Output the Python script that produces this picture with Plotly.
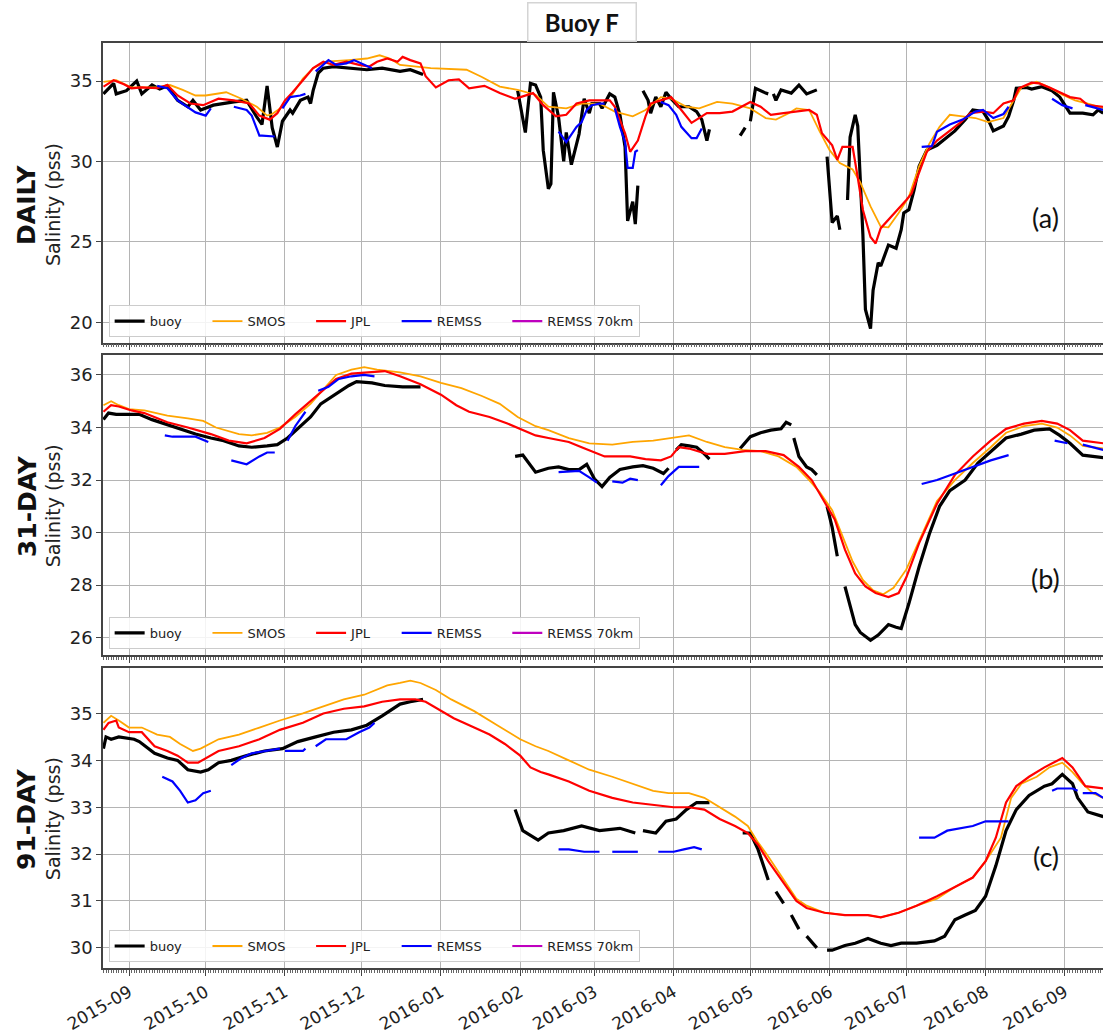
import plotly.graph_objects as go

# ---------------- Panel (a): DAILY ----------------
a_buoy_dates = ["2015-08-22","2015-08-26","2015-08-27","2015-08-31","2015-09-04","2015-09-06","2015-09-10","2015-09-13",
    "2015-09-16","2015-09-20","2015-09-24","2015-09-26","2015-09-29","2015-10-04","2015-10-12","2015-10-17","2015-10-21",
    "2015-10-23","2015-10-25","2015-10-27","2015-10-29","2015-10-31","2015-11-03","2015-11-04","2015-11-07","2015-11-10",
    "2015-11-11","2015-11-12","2015-11-14","2015-11-16","2015-11-20","2015-11-26","2015-12-03","2015-12-09","2015-12-16",
    "2015-12-20","2015-12-25","2016-01-10",
    "2016-01-31","2016-02-03","2016-02-05","2016-02-07","2016-02-09","2016-02-10","2016-02-12","2016-02-13","2016-02-14",
    "2016-02-16","2016-02-18","2016-02-19","2016-02-21","2016-02-24","2016-02-26","2016-02-28","2016-02-29","2016-03-03",
    "2016-03-04","2016-03-07","2016-03-09","2016-03-11","2016-03-13","2016-03-14","2016-03-16","2016-03-17","2016-03-18",
    "2016-03-19",
    "2016-03-20","2016-03-22","2016-03-23","2016-03-25","2016-03-27","2016-03-29","2016-03-31","2016-04-03","2016-04-07",
    "2016-04-10","2016-04-12","2016-04-14","2016-04-15","2016-04-20",
    "2016-04-27","2016-04-29","2016-04-30",
    "2016-05-01","2016-05-03","2016-05-07","2016-05-08","2016-05-09",
    "2016-05-10","2016-05-11","2016-05-13","2016-05-17","2016-05-20","2016-05-23","2016-05-27","2016-05-29",
    "2016-05-31","2016-06-02","2016-06-04","2016-06-05","2016-06-06",
    "2016-06-08","2016-06-09","2016-06-11","2016-06-12","2016-06-14","2016-06-15","2016-06-17","2016-06-18","2016-06-20",
    "2016-06-21","2016-06-24","2016-06-27","2016-06-29","2016-06-30","2016-07-02","2016-07-04","2016-07-06","2016-07-09",
    "2016-07-13","2016-07-17","2016-07-20","2016-07-24","2016-07-27","2016-07-31","2016-08-02","2016-08-04","2016-08-08",
    "2016-08-10","2016-08-12","2016-08-13","2016-08-17","2016-08-19","2016-08-23","2016-08-27","2016-08-30","2016-09-03",
    "2016-09-08","2016-09-12","2016-09-14","2016-09-16"]
a_buoy_vals = [34.2,34.85,34.2,34.4,35.0,34.2,34.75,34.5,
    34.7,33.8,33.4,33.8,33.2,33.5,33.7,33.8,32.75,
    32.3,34.7,32.1,30.9,32.5,33.2,33.0,33.8,34.0,
    33.6,34.4,35.5,35.8,35.9,35.8,35.7,35.8,35.6,
    35.7,35.4,None,
    34.4,31.8,34.85,34.75,34.0,30.7,28.3,28.6,34.3,
    32.75,30.0,31.8,29.8,31.7,33.9,33.0,33.6,33.6,
    33.3,34.2,34.0,32.9,30.9,26.3,27.5,26.1,28.5,
    None,
    34.4,33.8,33.0,34.0,33.4,34.3,33.9,33.4,33.4,
    33.1,32.6,31.3,32.0,None,
    31.6,32.1,None,
    32.5,34.55,34.25,34.2,None,
    34.2,33.8,34.45,34.25,34.75,34.2,34.45,None,
    30.3,26.2,26.6,25.75,None,
    27.6,31.5,32.9,32.2,25.5,20.8,19.6,22.0,23.7,
    23.5,24.8,24.6,25.75,26.8,27.0,28.2,29.7,30.7,
    31.0,31.5,31.9,32.6,33.2,33.1,32.6,31.9,32.2,
    32.8,33.8,34.55,34.6,34.5,34.65,34.4,34.0,33.0,
    33.0,32.9,33.2,33.0]

a_smos_dates = ["2015-08-22","2015-08-27","2015-09-02","2015-09-12","2015-09-17","2015-09-22","2015-09-27","2015-10-01",
    "2015-10-09","2015-10-15","2015-10-21","2015-10-25","2015-10-27","2015-10-31","2015-11-04","2015-11-08","2015-11-12",
    "2015-11-17","2015-11-26","2015-12-03","2015-12-08","2015-12-12","2015-12-16","2015-12-28","2016-01-11","2016-01-17",
    "2016-01-24","2016-01-31","2016-02-07","2016-02-12","2016-02-19","2016-02-25","2016-03-03","2016-03-09","2016-03-16",
    "2016-03-21","2016-03-27","2016-03-31","2016-04-06","2016-04-11","2016-04-18","2016-04-24","2016-05-01","2016-05-07",
    "2016-05-11","2016-05-16","2016-05-19","2016-05-24","2016-05-28","2016-06-01","2016-06-05","2016-06-10","2016-06-13",
    "2016-06-17","2016-06-21","2016-06-24","2016-06-28","2016-07-02","2016-07-06","2016-07-10","2016-07-14","2016-07-18",
    "2016-07-23","2016-07-28","2016-08-02","2016-08-08","2016-08-12","2016-08-15","2016-08-21","2016-08-26","2016-08-31",
    "2016-09-05","2016-09-10","2016-09-16"]
a_smos_vals = [34.95,35.05,34.6,34.6,34.75,34.45,34.1,34.1,
    34.3,33.9,33.4,32.85,32.95,33.4,34.2,35.15,35.8,
    36.2,36.3,36.4,36.6,36.4,36.0,35.8,35.7,35.25,
    34.65,34.45,34.15,33.4,33.3,33.6,33.6,33.1,32.8,
    33.2,34.0,33.9,33.4,33.3,33.7,33.6,33.3,32.7,
    32.6,33.0,33.3,33.2,31.9,30.7,29.9,29.5,28.7,
    27.2,25.95,25.9,26.8,27.8,29.7,31.1,32.15,32.9,
    32.8,32.7,32.45,32.7,33.8,34.6,34.95,34.6,34.15,
    33.8,33.6,33.3]

a_jpl_dates = ["2015-08-22","2015-08-26","2015-08-30","2015-09-02","2015-09-06","2015-09-12","2015-09-16","2015-09-20",
    "2015-09-25","2015-09-30","2015-10-06","2015-10-12","2015-10-18","2015-10-22","2015-10-26","2015-10-29","2015-11-01",
    "2015-11-04","2015-11-08","2015-11-12","2015-11-16","2015-11-20","2015-11-25","2015-11-30","2015-12-04","2015-12-07",
    "2015-12-11","2015-12-15","2015-12-17","2015-12-20","2015-12-24","2015-12-26","2015-12-30","2016-01-04","2016-01-08",
    "2016-01-12","2016-01-18","2016-01-24","2016-01-30","2016-02-06","2016-02-10","2016-02-15","2016-02-19","2016-02-23",
    "2016-02-28","2016-03-07","2016-03-09","2016-03-13","2016-03-15","2016-03-18","2016-03-21","2016-03-23","2016-03-27",
    "2016-03-31","2016-04-04","2016-04-08","2016-04-14","2016-04-19","2016-04-24","2016-05-01","2016-05-05","2016-05-09",
    "2016-05-14","2016-05-20","2016-05-24","2016-05-27","2016-05-29","2016-06-02","2016-06-04","2016-06-06","2016-06-10",
    "2016-06-12","2016-06-14","2016-06-17","2016-06-19","2016-06-21","2016-06-24","2016-06-27","2016-07-01","2016-07-03",
    "2016-07-06","2016-07-09","2016-07-13","2016-07-18","2016-07-22","2016-07-26","2016-07-31","2016-08-04","2016-08-08",
    "2016-08-12","2016-08-14","2016-08-19","2016-08-22","2016-08-26","2016-08-30","2016-09-03","2016-09-07","2016-09-10",
    "2016-09-16"]
a_jpl_vals = [34.65,35.05,34.8,34.55,34.6,34.55,34.75,34.1,
    33.6,33.5,33.9,33.8,33.6,32.85,32.6,33.0,33.8,
    34.3,35.05,35.8,36.2,36.0,36.2,36.0,35.9,36.2,
    36.4,36.2,36.5,36.3,36.1,35.3,34.6,35.05,35.1,
    34.55,34.7,34.25,33.9,34.25,33.5,32.8,32.9,33.6,
    33.8,33.8,33.4,31.75,30.6,31.3,32.8,33.6,33.8,
    34.0,33.2,32.4,33.0,33.0,33.1,33.7,33.4,32.9,
    33.0,33.1,33.2,32.9,31.75,31.0,30.1,30.9,30.9,
    29.0,27.0,25.3,24.9,25.85,26.35,26.9,27.6,28.0,
    29.3,30.6,31.3,31.9,32.4,33.0,33.1,33.0,33.6,
    33.8,34.55,34.9,34.85,34.6,34.3,34.0,33.9,33.5,
    33.4]

a_remss_dates = ["2015-09-12","2015-09-16","2015-09-20","2015-09-24","2015-09-27","2015-10-01","2015-10-03","2015-10-07",
    "2015-10-12","2015-10-17","2015-10-19","2015-10-22","2015-10-23","2015-10-28","2015-10-29",
    "2015-10-31","2015-11-03","2015-11-07","2015-11-09","2015-11-11",
    "2015-11-13","2015-11-16","2015-11-18","2015-11-21","2015-11-25","2015-11-28","2015-12-01","2015-12-05","2016-01-15",
    "2016-02-16","2016-02-19","2016-02-23","2016-02-25","2016-02-27","2016-02-29","2016-03-03","2016-03-05","2016-03-07",
    "2016-03-09","2016-03-11","2016-03-13","2016-03-14","2016-03-16","2016-03-17","2016-03-18","2016-03-22",
    "2016-03-27","2016-03-30","2016-04-02","2016-04-04","2016-04-08","2016-04-10","2016-04-12","2016-05-20",
    "2016-07-07","2016-07-11","2016-07-13","2016-07-18","2016-07-23","2016-07-28","2016-07-31","2016-08-04","2016-08-08",
    "2016-08-10","2016-08-20",
    "2016-08-27","2016-08-31","2016-09-04","2016-09-06",
    "2016-09-09","2016-09-16"]
a_remss_vals = [34.7,34.55,33.8,33.4,33.05,32.85,33.3,None,
    33.4,33.2,32.85,31.6,31.6,31.55,None,
    33.3,34.0,34.1,34.2,None,
    35.6,36.0,36.3,36.0,36.1,36.3,36.1,35.8,None,
    31.85,31.2,32.15,32.45,33.2,33.5,33.6,33.6,None,
    33.3,32.15,31.2,29.6,29.6,30.6,30.7,None,
    33.7,33.5,32.9,32.15,31.45,31.45,32.05,None,
    30.9,30.95,31.85,32.3,32.6,33.1,33.2,32.7,32.95,
    33.4,None,
    33.9,33.5,33.3,None,
    33.5,33.2]

# ---------------- Panel (b): 31-DAY ----------------
b_buoy_dates = ["2015-08-22","2015-08-24","2015-08-27","2015-08-31","2015-09-05","2015-09-10","2015-09-16","2015-09-21",
    "2015-09-27","2015-10-03","2015-10-08","2015-10-14","2015-10-19","2015-10-25","2015-10-29","2015-11-02","2015-11-07",
    "2015-11-11","2015-11-15","2015-11-21","2015-11-26","2015-11-29","2015-12-05","2015-12-10","2015-12-17","2015-12-24",
    "2016-01-10",
    "2016-01-30","2016-02-02","2016-02-07","2016-02-12","2016-02-16","2016-02-20","2016-02-24","2016-02-27","2016-03-01",
    "2016-03-04","2016-03-07","2016-03-11","2016-03-16","2016-03-20","2016-03-24","2016-03-28","2016-03-30","2016-04-01",
    "2016-04-02","2016-04-04","2016-04-07","2016-04-10","2016-04-13","2016-04-15","2016-04-21",
    "2016-04-27","2016-05-01","2016-05-05","2016-05-09","2016-05-13","2016-05-15","2016-05-17","2016-05-17T12:00",
    "2016-05-18","2016-05-20","2016-05-23","2016-05-25","2016-05-27","2016-05-29",
    "2016-05-31","2016-06-02","2016-06-04","2016-06-05",
    "2016-06-07","2016-06-09","2016-06-11","2016-06-13","2016-06-17","2016-06-20","2016-06-24","2016-06-27","2016-06-29",
    "2016-07-02","2016-07-06","2016-07-10","2016-07-14","2016-07-18","2016-07-24","2016-07-29","2016-08-04","2016-08-09",
    "2016-08-15","2016-08-20","2016-08-26","2016-08-30","2016-09-03","2016-09-08","2016-09-16"]
b_buoy_vals = [34.3,34.55,34.5,34.5,34.5,34.3,34.1,33.95,
    33.75,33.6,33.5,33.3,33.25,33.3,33.35,33.6,34.05,
    34.4,34.9,35.3,35.6,35.75,35.7,35.6,35.55,35.55,
    None,
    32.9,32.95,32.3,32.45,32.5,32.4,32.4,32.6,32.05,
    31.75,32.1,32.4,32.5,32.55,32.45,32.25,32.45,None,
    33.15,33.35,33.3,33.25,33.0,32.8,None,
    33.2,33.65,33.8,33.9,33.95,34.2,34.1,None,
    33.6,32.9,32.5,32.4,32.2,None,
    31.0,30.2,29.1,None,
    27.95,27.2,26.5,26.2,25.9,26.1,26.5,26.4,26.35,
    27.3,28.7,29.95,31.0,31.6,32.0,32.65,33.15,33.6,
    33.75,33.9,33.95,33.7,33.4,32.95,32.85]

b_smos_dates = ["2015-08-22","2015-08-25","2015-08-28","2015-09-01","2015-09-07","2015-09-16","2015-09-24","2015-09-30",
    "2015-10-05","2015-10-14","2015-10-19","2015-10-25","2015-10-30","2015-11-05","2015-11-11","2015-11-16","2015-11-21",
    "2015-11-27","2015-12-02","2015-12-07","2015-12-16","2015-12-24","2016-01-01","2016-01-09","2016-01-17","2016-01-24",
    "2016-01-31","2016-02-07","2016-02-12","2016-02-20","2016-02-28","2016-03-08","2016-03-16","2016-03-24","2016-03-31",
    "2016-04-07","2016-04-14","2016-04-21","2016-04-28","2016-05-05","2016-05-12","2016-05-19","2016-05-24","2016-05-28",
    "2016-06-02","2016-06-06","2016-06-10","2016-06-14","2016-06-18","2016-06-22","2016-06-26","2016-07-01","2016-07-06",
    "2016-07-13","2016-07-20","2016-07-27","2016-08-03","2016-08-09","2016-08-16","2016-08-23","2016-08-29","2016-09-03",
    "2016-09-08","2016-09-16"]
b_smos_vals = [34.85,35.0,34.85,34.7,34.65,34.45,34.35,34.25,
    34.0,33.75,33.7,33.8,34.0,34.4,34.9,35.45,36.0,
    36.2,36.3,36.2,36.1,35.95,35.7,35.5,35.2,34.9,
    34.4,34.05,33.9,33.6,33.4,33.35,33.45,33.5,33.6,
    33.7,33.45,33.25,33.15,33.1,32.9,32.5,32.0,31.55,
    30.85,29.85,28.9,28.2,27.8,27.65,27.9,28.6,29.7,
    31.2,32.0,32.65,33.25,33.8,34.05,34.15,34.0,33.7,
    33.3,33.2]

b_jpl_dates = ["2015-08-22","2015-08-25","2015-08-28","2015-09-02","2015-09-07","2015-09-16","2015-09-24","2015-10-03",
    "2015-10-10","2015-10-17","2015-10-24","2015-10-30","2015-11-05","2015-11-11","2015-11-15","2015-11-21","2015-11-27",
    "2015-12-04","2015-12-10","2015-12-16","2015-12-24","2016-01-01","2016-01-07","2016-01-12","2016-01-20","2016-01-27",
    "2016-02-02","2016-02-07","2016-02-12","2016-02-20","2016-02-25","2016-03-05","2016-03-15","2016-03-21","2016-03-27",
    "2016-03-31","2016-04-03","2016-04-07","2016-04-14","2016-04-21","2016-04-29","2016-05-07","2016-05-14","2016-05-20",
    "2016-05-25","2016-05-29","2016-06-03","2016-06-07","2016-06-11","2016-06-15","2016-06-19","2016-06-24","2016-06-28",
    "2016-07-01","2016-07-06","2016-07-13","2016-07-20","2016-07-27","2016-08-03","2016-08-09","2016-08-16","2016-08-23",
    "2016-08-29","2016-09-03","2016-09-08","2016-09-16"]
b_jpl_vals = [34.6,34.85,34.8,34.65,34.55,34.2,34.0,33.75,
    33.5,33.4,33.6,33.95,34.5,35.0,35.35,35.85,36.05,
    36.1,36.15,35.95,35.65,35.25,34.85,34.6,34.4,34.15,
    33.9,33.7,33.6,33.45,33.25,32.9,32.9,32.8,32.75,
    32.9,33.25,33.2,33.0,33.0,33.1,33.1,32.95,32.5,
    32.0,31.35,30.5,29.35,28.45,27.95,27.7,27.55,27.7,
    28.3,29.6,31.1,32.2,32.9,33.5,33.95,34.15,34.25,
    34.15,33.9,33.5,33.4]

b_remss_dates = ["2015-09-15","2015-09-18","2015-09-27","2015-10-01","2015-10-02","2015-10-06",
    "2015-10-11","2015-10-17","2015-10-22","2015-10-25","2015-10-28","2015-10-31",
    "2015-11-02","2015-11-05","2015-11-09","2015-11-12",
    "2015-11-14","2015-11-18","2015-11-22","2015-11-27","2015-12-02","2015-12-06","2016-01-15",
    "2016-02-16","2016-02-24","2016-02-28","2016-03-02","2016-03-05",
    "2016-03-08","2016-03-12","2016-03-15","2016-03-18","2016-03-22",
    "2016-03-27","2016-03-30","2016-04-03","2016-04-11","2016-05-20",
    "2016-07-07","2016-07-13","2016-07-20","2016-07-27","2016-08-03","2016-08-10","2016-08-20",
    "2016-08-28","2016-09-02","2016-09-05",
    "2016-09-08","2016-09-16"]
b_remss_vals = [33.7,33.65,33.65,33.5,33.45,None,
    32.75,32.6,32.9,33.05,33.05,None,
    33.5,34.05,34.6,None,
    35.4,35.55,35.85,35.95,36.0,35.95,None,
    32.3,32.35,32.1,31.9,None,
    31.95,31.9,32.05,32.0,None,
    31.8,32.15,32.5,32.5,None,
    31.85,32.0,32.25,32.5,32.75,32.95,None,
    33.5,33.4,None,
    33.35,33.15]

# ---------------- Panel (c): 91-DAY ----------------
c_buoy_dates = ["2015-08-22","2015-08-23","2015-08-25","2015-08-28","2015-09-03","2015-09-05","2015-09-11","2015-09-16",
    "2015-09-20","2015-09-24","2015-09-29","2015-10-02","2015-10-06","2015-10-11","2015-10-17","2015-10-24","2015-10-31",
    "2015-11-06","2015-11-13","2015-11-20","2015-11-27","2015-12-03","2015-12-09","2015-12-13","2015-12-16","2015-12-20",
    "2015-12-25","2016-01-10",
    "2016-01-30","2016-02-02","2016-02-05","2016-02-08","2016-02-12","2016-02-18","2016-02-25","2016-03-03","2016-03-11",
    "2016-03-17","2016-03-18",
    "2016-03-20","2016-03-25","2016-03-29","2016-04-02","2016-04-06","2016-04-10","2016-04-15","2016-04-21",
    "2016-04-28","2016-05-01","2016-05-04","2016-05-08","2016-05-09",
    "2016-05-11","2016-05-14","2016-05-15",
    "2016-05-17","2016-05-20","2016-05-21",
    "2016-05-23","2016-05-27","2016-05-29",
    "2016-05-31","2016-06-02","2016-06-07","2016-06-11","2016-06-16","2016-06-21","2016-06-25","2016-06-29","2016-07-05",
    "2016-07-12","2016-07-16","2016-07-20","2016-07-24","2016-07-28","2016-08-01","2016-08-05","2016-08-09","2016-08-13",
    "2016-08-18","2016-08-24","2016-08-27","2016-08-31","2016-09-04","2016-09-06","2016-09-10","2016-09-16"]
c_buoy_vals = [34.25,34.5,34.45,34.5,34.45,34.4,34.15,34.05,
    34.0,33.8,33.75,33.8,33.95,34.0,34.1,34.2,34.25,
    34.4,34.5,34.6,34.65,34.75,34.95,35.1,35.2,35.25,
    35.3,None,
    32.95,32.5,32.4,32.3,32.45,32.5,32.6,32.5,32.55,
    32.45,None,
    32.5,32.45,32.7,32.75,32.95,33.1,33.1,None,
    32.45,32.45,32.1,31.45,None,
    31.2,30.95,None,
    30.7,30.4,None,
    30.25,30.0,None,
    29.95,29.95,30.05,30.1,30.2,30.1,30.05,30.1,30.1,
    30.15,30.25,30.6,30.7,30.8,31.1,31.75,32.5,32.95,
    33.25,33.45,33.5,33.7,33.5,33.2,32.9,32.8]

c_smos_dates = ["2015-08-22","2015-08-25","2015-08-28","2015-09-01","2015-09-06","2015-09-12","2015-09-17","2015-09-21",
    "2015-09-26","2015-09-29","2015-10-06","2015-10-14","2015-10-22","2015-10-30","2015-11-08","2015-11-16","2015-11-24",
    "2015-12-02","2015-12-11","2015-12-16","2015-12-20","2015-12-24","2015-12-30","2016-01-05","2016-01-14","2016-01-23",
    "2016-02-01","2016-02-07","2016-02-12","2016-02-20","2016-02-28","2016-03-08","2016-03-16","2016-03-24","2016-03-30",
    "2016-04-07","2016-04-13","2016-04-19","2016-04-25","2016-04-30","2016-05-04","2016-05-08","2016-05-14","2016-05-19",
    "2016-05-23","2016-05-30","2016-06-07","2016-06-16","2016-06-21","2016-06-28","2016-07-05","2016-07-13","2016-07-20",
    "2016-07-27","2016-08-01","2016-08-07","2016-08-11","2016-08-15","2016-08-21","2016-08-26","2016-08-31","2016-09-04",
    "2016-09-08","2016-09-12","2016-09-16"]
c_smos_vals = [34.8,34.95,34.85,34.7,34.7,34.55,34.5,34.35,
    34.2,34.25,34.45,34.55,34.7,34.85,35.0,35.15,35.3,
    35.4,35.6,35.65,35.7,35.65,35.5,35.3,35.05,34.75,
    34.45,34.3,34.2,34.0,33.8,33.65,33.5,33.35,33.3,
    33.3,33.2,33.0,32.8,32.6,32.25,31.95,31.45,31.05,
    30.9,30.75,30.7,30.7,30.65,30.75,30.9,31.05,31.3,
    31.5,31.85,32.35,33.2,33.5,33.65,33.85,33.95,33.75,
    33.5,33.3,33.2]

c_jpl_dates = ["2015-08-22","2015-08-24","2015-08-27","2015-08-28","2015-09-01","2015-09-06","2015-09-11","2015-09-16",
    "2015-09-20","2015-09-24","2015-09-28","2015-10-01","2015-10-06","2015-10-14","2015-10-22","2015-10-30","2015-11-08",
    "2015-11-16","2015-11-24","2015-12-02","2015-12-09","2015-12-16","2015-12-22","2015-12-26","2016-01-01","2016-01-06",
    "2016-01-14","2016-01-20","2016-01-26","2016-02-01","2016-02-05","2016-02-09","2016-02-12","2016-02-20","2016-02-28",
    "2016-03-08","2016-03-16","2016-03-24","2016-04-01","2016-04-07","2016-04-13","2016-04-19","2016-04-25","2016-04-30",
    "2016-05-04","2016-05-08","2016-05-14","2016-05-19","2016-05-23","2016-05-30","2016-06-07","2016-06-16","2016-06-21",
    "2016-06-28","2016-07-05","2016-07-13","2016-07-20","2016-07-27","2016-08-01","2016-08-05","2016-08-09","2016-08-13",
    "2016-08-18","2016-08-24","2016-08-31","2016-09-04","2016-09-09","2016-09-16"]
c_jpl_vals = [34.65,34.8,34.85,34.7,34.6,34.6,34.3,34.2,
    34.1,33.95,33.95,34.05,34.2,34.3,34.45,34.65,34.8,
    35.0,35.1,35.15,35.25,35.3,35.3,35.25,35.05,34.9,
    34.7,34.55,34.35,34.1,33.85,33.75,33.7,33.55,33.35,
    33.2,33.1,33.05,33.0,33.0,32.95,32.75,32.6,32.45,
    32.2,31.85,31.4,31.0,30.85,30.75,30.7,30.7,30.65,
    30.75,30.9,31.1,31.3,31.5,31.85,32.35,33.1,33.45,
    33.65,33.85,34.05,33.85,33.45,33.4]

c_remss_dates = ["2015-09-14","2015-09-18","2015-09-21","2015-09-24","2015-09-27","2015-09-30","2015-10-03","2015-10-07",
    "2015-10-11","2015-10-15","2015-10-19","2015-10-25","2015-10-30","2015-10-31",
    "2015-11-01","2015-11-08","2015-11-09","2015-11-11",
    "2015-11-13","2015-11-17","2015-11-25","2015-11-30","2015-12-04","2015-12-06","2016-01-15",
    "2016-02-16","2016-02-20","2016-02-26","2016-03-03","2016-03-05",
    "2016-03-08","2016-03-18","2016-03-22",
    "2016-03-26","2016-04-01","2016-04-05","2016-04-09","2016-04-12","2016-05-20",
    "2016-07-06","2016-07-12","2016-07-17","2016-07-22","2016-07-27","2016-08-01","2016-08-10","2016-08-20",
    "2016-08-27","2016-08-29","2016-09-04","2016-09-06","2016-09-07",
    "2016-09-08","2016-09-13","2016-09-16"]
c_remss_vals = [33.65,33.55,33.35,33.1,33.15,33.3,33.35,None,
    33.9,34.05,34.15,34.2,34.25,None,
    34.2,34.2,34.25,None,
    34.3,34.45,34.45,34.6,34.7,34.8,None,
    32.1,32.1,32.05,32.05,None,
    32.05,32.05,None,
    32.05,32.05,32.1,32.15,32.1,None,
    32.35,32.35,32.5,32.55,32.6,32.7,32.7,None,
    33.35,33.4,33.4,33.35,None,
    33.3,33.3,33.2]

series_names = ["buoy", "SMOS", "JPL", "REMSS", "REMSS 70km"]
series_colors = ["#000000", "#FFA500", "#FF0000", "#0000FF", "#BF00BF"]
series_widths = [3.2, 1.8, 2.2, 2.2, 2.2]
legend_pad = "\u00a0" * 5

panels = [
    {"data": [(a_buoy_dates, a_buoy_vals), (a_smos_dates, a_smos_vals), (a_jpl_dates, a_jpl_vals),
              (a_remss_dates, a_remss_vals), ([None], [None])],
     "ticks": [20, 25, 30, 35], "range": [18.73, 37.38], "dom": [0.6689, 0.9587],
     "big": "DAILY", "tag": "(a)", "tag_y": 0.790, "label_y": 0.802, "leg_y": 0.6742},
    {"data": [(b_buoy_dates, b_buoy_vals), (b_smos_dates, b_smos_vals), (b_jpl_dates, b_jpl_vals),
              (b_remss_dates, b_remss_vals), ([None], [None])],
     "ticks": [26, 28, 30, 32, 34, 36], "range": [25.34, 36.76], "dom": [0.3671, 0.6570],
     "big": "31-DAY", "tag": "(b)", "tag_y": 0.4406, "label_y": 0.511, "leg_y": 0.3730},
    {"data": [(c_buoy_dates, c_buoy_vals), (c_smos_dates, c_smos_vals), (c_jpl_dates, c_jpl_vals),
              (c_remss_dates, c_remss_vals), ([None], [None])],
     "ticks": [30, 31, 32, 33, 34, 35], "range": [29.57, 35.97], "dom": [0.0647, 0.3546],
     "big": "91-DAY", "tag": "(c)", "tag_y": 0.172, "label_y": 0.2087, "leg_y": 0.0705},
]

x_range = ["2015-08-21 20:00", "2016-09-15 22:00"]
grid_col = "#b4b4b4"
axis_col = "#444444"

fig = go.Figure()
layout = dict(
    width=1103, height=1035,
    margin=dict(l=0, r=0, t=0, b=0),
    paper_bgcolor="white", plot_bgcolor="white",
    font=dict(family="DejaVu Sans", color="#222222"),
    annotations=[], showlegend=True,
)

for i, p in enumerate(panels):
    k = "" if i == 0 else str(i + 1)
    leg = "legend" + k
    for j, (dts, vals) in enumerate(p["data"]):
        name = series_names[j] + (legend_pad if j < len(series_names) - 1 else "")
        fig.add_trace(go.Scatter(
            x=dts, y=vals, mode="lines", name=name,
            line=dict(color=series_colors[j], width=series_widths[j]),
            xaxis="x" + k, yaxis="y" + k, legend=leg, connectgaps=False,
            hoverinfo="skip"))
    layout["xaxis" + k] = dict(
        domain=[0.0934, 1.0], anchor="y" + k, type="date", range=x_range,
        tick0="2015-09-01", dtick="M1", tickformat="%Y-%m",
        showticklabels=(i == 2), tickangle=-30,
        tickfont=dict(size=17, color="#222222"),
        ticks="outside", ticklen=6, tickcolor=axis_col, tickwidth=1,
        showgrid=True, gridcolor=grid_col, gridwidth=1,
        showline=True, linecolor=axis_col, linewidth=1.5, mirror=True,
        minor=dict(dtick=86400000, ticks="outside", ticklen=3, tickcolor="#666666",
                   tickwidth=0.6, showgrid=False),
        zeroline=False, automargin=False,
    )
    layout["yaxis" + k] = dict(
        domain=p["dom"], anchor="x" + k, range=p["range"],
        tickvals=p["ticks"], tickfont=dict(size=18, color="#222222"),
        ticks="outside", ticklen=5, tickcolor=axis_col,
        showgrid=True, gridcolor=grid_col, gridwidth=1,
        showline=True, linecolor=axis_col, linewidth=1.5, mirror=False,
        zeroline=False, automargin=False,
    )
    layout[leg] = dict(
        orientation="h", x=0.0985, y=p["leg_y"], xanchor="left", yanchor="bottom",
        bgcolor="rgba(255,255,255,0.85)", bordercolor="#cccccc", borderwidth=1,
        font=dict(size=13, color="#222222"), tracegroupgap=0, itemwidth=30,
    )
    layout["annotations"] += [
        dict(text="<b>" + p["big"] + "</b>", x=0.0245, y=p["label_y"], xref="paper", yref="paper",
             textangle=-90, showarrow=False, xanchor="center", yanchor="middle",
             font=dict(size=25, family="DejaVu Sans", color="#111111")),
        dict(text="Salinity (pss)", x=0.0482, y=p["label_y"], xref="paper", yref="paper",
             textangle=-90, showarrow=False, xanchor="center", yanchor="middle",
             font=dict(size=19, family="DejaVu Sans", color="#222222")),
        dict(text=p["tag"], x=0.948, y=p["tag_y"], xref="paper", yref="paper",
             showarrow=False, xanchor="center", yanchor="middle",
             font=dict(size=27, family="Lato", color="#111111")),
    ]

layout["annotations"].append(
    dict(text="\u00a0\u00a0<b>Buoy F</b>\u00a0\u00a0", x=0.5277, y=0.9787, xref="paper", yref="paper",
         showarrow=False, xanchor="center", yanchor="middle",
         font=dict(size=24, family="Lato", color="#111111"),
         bgcolor="white", bordercolor="#d4d4d4", borderwidth=1.5, borderpad=4))

fig.update_layout(**layout)
fig.write_html("out.html")
